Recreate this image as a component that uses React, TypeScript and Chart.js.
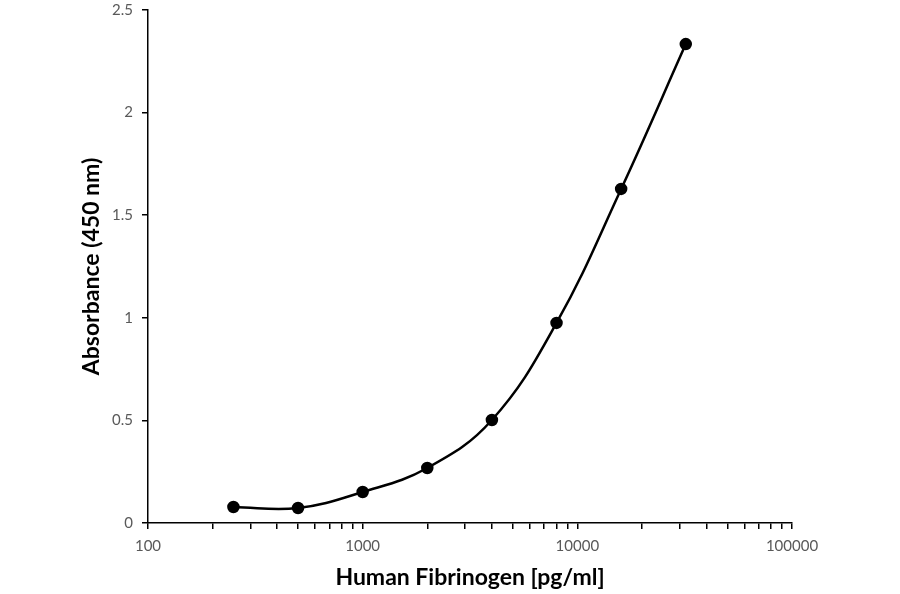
import { Chart, registerables } from "chart.js";
import { useEffect, useRef } from "react";

Chart.register(...registerables);

// Human Fibrinogen standard curve
const concentrations = [250, 500, 1000, 2000, 4000, 8000, 16000, 32000];
const absorbance = [0.078, 0.073, 0.151, 0.268, 0.502, 0.975, 1.628, 2.334];

const xDecades = [100, 1000, 10000, 100000];
const xMinorSteps = [1, 2, 3, 4, 5, 6, 7, 8, 9];
const yTicks = [0, 0.5, 1, 1.5, 2, 2.5];

export default function App() {
  const chartRef = useRef<HTMLCanvasElement>(null);
  const chartInstanceRef = useRef<Chart | null>(null);

  useEffect(() => {
    document.body.style.margin = "0";
    if (!chartRef.current) return;

    if (chartInstanceRef.current) {
      chartInstanceRef.current.destroy();
    }

    const points = concentrations.map((c, i) => ({ x: c, y: absorbance[i] }));

    // tick marks at every 1..9 x 10^n, labels only on the decades
    const xTickValues: number[] = [];
    xDecades.slice(0, -1).forEach((d) => {
      xMinorSteps.forEach((m) => xTickValues.push(d * m));
    });
    xTickValues.push(xDecades[xDecades.length - 1]);

    chartInstanceRef.current = new Chart(chartRef.current, {
      type: "scatter",
      data: {
        datasets: [
          {
            label: "Absorbance",
            data: points,
            showLine: true,
            tension: 0.4,
            borderColor: "#000",
            borderWidth: 2.5,
            backgroundColor: "#000",
            pointRadius: 5,
            pointHoverRadius: 5,
          },
        ],
      },
      options: {
        responsive: true,
        maintainAspectRatio: false,
        animation: false,
        layout: { padding: { top: 10, right: 108, left: 0, bottom: 0 } },
        plugins: {
          legend: { display: false },
          tooltip: { enabled: false },
        },
        scales: {
          x: {
            type: "logarithmic",
            min: 100,
            max: 100000,
            afterBuildTicks: (scale) => {
              scale.ticks = xTickValues.map((v) => ({ value: v }));
            },
            afterFit: (scale) => {
              scale.height = 71;
            },
            grid: {
              drawOnChartArea: false,
              drawTicks: true,
              tickLength: 6,
              color: "#000",
              lineWidth: 1.5,
            },
            border: { color: "#000", width: 1.5 },
            ticks: {
              autoSkip: false,
              maxRotation: 0,
              padding: 8,
              color: "#595959",
              font: { family: "Lato", size: 15 },
              callback: (value) =>
                xDecades.includes(Number(value)) ? String(value) : "",
            },
            title: {
              display: true,
              text: "Human Fibrinogen [pg/ml]",
              color: "#000",
              font: { family: "Lato", size: 23, weight: "bold" },
              padding: { top: 0, bottom: 3 },
            },
          },
          y: {
            min: 0,
            max: 2.5,
            afterBuildTicks: (scale) => {
              scale.ticks = yTicks.map((v) => ({ value: v }));
            },
            afterFit: (scale) => {
              scale.width = 148;
              scale.paddingTop = 0;
              scale.paddingBottom = 0;
            },
            grid: {
              drawOnChartArea: false,
              drawTicks: true,
              tickLength: 6,
              color: "#000",
              lineWidth: 1.5,
            },
            border: { color: "#000", width: 1.5 },
            ticks: {
              padding: 9,
              color: "#595959",
              font: { family: "Lato", size: 15 },
              callback: (value) => String(value),
            },
            title: {
              display: true,
              text: "Absorbance (450 nm)",
              color: "#000",
              font: { family: "Lato", size: 23, weight: "bold" },
              padding: { top: 78, bottom: 0 },
            },
          },
        },
      },
    });

    return () => {
      if (chartInstanceRef.current) {
        chartInstanceRef.current.destroy();
        chartInstanceRef.current = null;
      }
    };
  }, []);

  return (
    <div style={{ width: 900, height: 594, background: "#fff" }}>
      <canvas ref={chartRef} />
    </div>
  );
}
